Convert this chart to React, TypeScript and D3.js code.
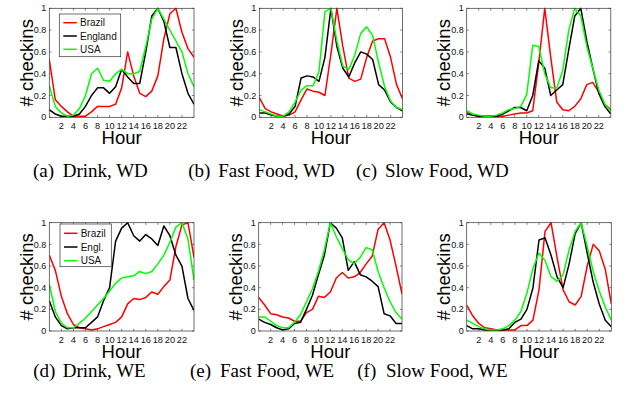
import React from "react";
import * as d3 from "d3";

const hours = [0, 1, 2, 3, 4, 5, 6, 7, 8, 9, 10, 11, 12, 13, 14, 15, 16, 17, 18, 19, 20, 21, 22, 23, 24];
const xTicks = [2, 4, 6, 8, 10, 12, 14, 16, 18, 20, 22];
const yTicks = [0, 0.2, 0.4, 0.6, 0.8, 1];
const yTickLabels = ["0", "0.2", "0.4", "0.6", "0.8", "1"];
const countries = ["Brazil", "England", "USA"];
const legendLabelsWD = ["Brazil", "England", "USA"];
const legendLabelsWE = ["Brazil", "Engl.", "USA"];

// (a) Drink, WD
const drinkWD_Brazil = [0.53, 0.16, 0.10, 0.05, 0.01, 0.01, 0.01, 0.05, 0.10, 0.10, 0.10, 0.12, 0.27, 0.60, 0.38, 0.22, 0.19, 0.24, 0.38, 0.72, 0.95, 1.0, 0.78, 0.63, 0.55];
const drinkWD_England = [0.07, 0.03, 0.01, 0.01, 0.01, 0.03, 0.10, 0.20, 0.27, 0.27, 0.22, 0.28, 0.44, 0.37, 0.31, 0.31, 0.60, 0.93, 1.0, 0.88, 0.64, 0.64, 0.40, 0.22, 0.12];
const drinkWD_USA = [0.29, 0.10, 0.04, 0.01, 0.02, 0.08, 0.20, 0.40, 0.45, 0.34, 0.33, 0.40, 0.44, 0.40, 0.40, 0.42, 0.65, 0.90, 1.0, 0.90, 0.80, 0.70, 0.60, 0.40, 0.28];

// (b) Fast Food, WD
const fastWD_Brazil = [0.18, 0.08, 0.05, 0.03, 0.01, 0.02, 0.05, 0.16, 0.26, 0.24, 0.23, 0.20, 0.58, 1.0, 0.65, 0.36, 0.33, 0.35, 0.55, 0.70, 0.72, 0.72, 0.55, 0.30, 0.17];
const fastWD_England = [0.04, 0.04, 0.02, 0.01, 0.01, 0.03, 0.10, 0.36, 0.38, 0.37, 0.33, 0.55, 1.0, 0.65, 0.45, 0.37, 0.50, 0.60, 0.58, 0.53, 0.30, 0.25, 0.14, 0.09, 0.06];
const fastWD_USA = [0.07, 0.05, 0.03, 0.01, 0.01, 0.05, 0.14, 0.25, 0.29, 0.29, 0.42, 0.97, 1.0, 0.70, 0.47, 0.44, 0.57, 0.77, 0.83, 0.75, 0.50, 0.28, 0.15, 0.09, 0.07];

// (c) Slow Food, WD
const slowWD_Brazil = [0.05, 0.02, 0.01, 0.01, 0.01, 0.01, 0.01, 0.02, 0.03, 0.04, 0.04, 0.06, 0.50, 1.0, 0.55, 0.14, 0.07, 0.06, 0.10, 0.17, 0.30, 0.32, 0.23, 0.12, 0.07];
const slowWD_England = [0.03, 0.02, 0.01, 0.01, 0.01, 0.01, 0.03, 0.06, 0.09, 0.09, 0.06, 0.20, 0.52, 0.45, 0.20, 0.25, 0.30, 0.62, 0.93, 1.0, 0.70, 0.45, 0.22, 0.10, 0.03];
const slowWD_USA = [0.06, 0.03, 0.02, 0.01, 0.01, 0.02, 0.04, 0.07, 0.08, 0.10, 0.21, 0.66, 0.65, 0.40, 0.27, 0.27, 0.43, 0.80, 1.0, 0.93, 0.65, 0.45, 0.25, 0.12, 0.06];

// (d) Drink, WE
const drinkWE_Brazil = [0.70, 0.56, 0.32, 0.16, 0.06, 0.03, 0.02, 0.01, 0.02, 0.04, 0.06, 0.08, 0.13, 0.25, 0.30, 0.29, 0.31, 0.36, 0.34, 0.41, 0.47, 0.78, 0.98, 1.0, 0.68];
const drinkWE_England = [0.28, 0.13, 0.05, 0.02, 0.03, 0.03, 0.03, 0.08, 0.13, 0.28, 0.40, 0.83, 0.95, 1.0, 0.88, 0.83, 0.89, 0.85, 0.79, 0.97, 0.88, 0.70, 0.60, 0.30, 0.19];
const drinkWE_USA = [0.43, 0.18, 0.07, 0.03, 0.03, 0.07, 0.12, 0.18, 0.24, 0.30, 0.37, 0.44, 0.49, 0.50, 0.51, 0.55, 0.53, 0.55, 0.62, 0.70, 0.82, 0.96, 1.0, 0.85, 0.47];

// (e) Fast Food, WE
const fastWE_Brazil = [0.31, 0.24, 0.16, 0.15, 0.13, 0.12, 0.09, 0.09, 0.17, 0.20, 0.32, 0.31, 0.36, 0.49, 0.54, 0.49, 0.50, 0.54, 0.62, 0.69, 0.94, 1.0, 0.84, 0.60, 0.34];
const fastWE_England = [0.11, 0.08, 0.06, 0.03, 0.01, 0.02, 0.07, 0.08, 0.20, 0.33, 0.52, 0.70, 1.0, 0.95, 0.86, 0.56, 0.64, 0.52, 0.50, 0.46, 0.41, 0.16, 0.14, 0.07, 0.07];
const fastWE_USA = [0.13, 0.13, 0.09, 0.05, 0.03, 0.03, 0.08, 0.15, 0.27, 0.39, 0.55, 0.75, 1.0, 0.87, 0.76, 0.66, 0.62, 0.68, 0.77, 0.75, 0.55, 0.40, 0.27, 0.17, 0.11];

// (f) Slow Food, WE
const slowWE_Brazil = [0.24, 0.14, 0.07, 0.03, 0.02, 0.01, 0.01, 0.01, 0.01, 0.05, 0.05, 0.10, 0.38, 0.92, 1.0, 0.68, 0.38, 0.27, 0.24, 0.32, 0.60, 0.80, 0.74, 0.57, 0.25];
const slowWE_England = [0.05, 0.02, 0.02, 0.01, 0.01, 0.01, 0.01, 0.02, 0.08, 0.11, 0.20, 0.40, 0.84, 0.86, 0.70, 0.50, 0.40, 0.62, 0.90, 1.0, 0.72, 0.45, 0.25, 0.10, 0.04];
const slowWE_USA = [0.10, 0.07, 0.04, 0.02, 0.01, 0.01, 0.02, 0.05, 0.10, 0.18, 0.35, 0.58, 0.72, 0.65, 0.50, 0.46, 0.52, 0.75, 0.92, 1.0, 0.78, 0.55, 0.37, 0.22, 0.10];

const captionLetters = ["(a)", "(b)", "(c)", "(d)", "(e)", "(f)"];
const captionTexts = ["Drink, WD", "Fast Food, WD", "Slow Food, WD", "Drink, WE", "Fast Food, WE", "Slow Food, WE"];

const colors = ["#ff0000", "#000000", "#00ff00"];

type Panel = {
  x0: number; x1: number; y0: number; y1: number;
  series: number[][];
  letter: string; text: string; capX: number; capTextX: number; capY: number;
  legend?: { labels: string[]; bx: number; by: number; bw: number; bh: number; rows: number[] };
};

const panels: Panel[] = [
  { x0: 49.3, x1: 194, y0: 8.3, y1: 117.3, series: [drinkWD_Brazil, drinkWD_England, drinkWD_USA], letter: captionLetters[0], text: captionTexts[0], capX: 33, capTextX: 62.7, capY: 177,
    legend: { labels: legendLabelsWD, bx: 59.3, by: 14, bw: 61.4, bh: 42.7, rows: [22.7, 36, 49.3] } },
  { x0: 259.3, x1: 402.5, y0: 8.3, y1: 117.3, series: [fastWD_Brazil, fastWD_England, fastWD_USA], letter: captionLetters[1], text: captionTexts[1], capX: 188.3, capTextX: 218.3, capY: 177 },
  { x0: 466.7, x1: 610.8, y0: 8.3, y1: 117.3, series: [slowWD_Brazil, slowWD_England, slowWD_USA], letter: captionLetters[2], text: captionTexts[2], capX: 356, capTextX: 385, capY: 177 },
  { x0: 49.3, x1: 194, y0: 222.7, y1: 331, series: [drinkWE_Brazil, drinkWE_England, drinkWE_USA], letter: captionLetters[3], text: captionTexts[3], capX: 33.3, capTextX: 62.7, capY: 377,
    legend: { labels: legendLabelsWE, bx: 60, by: 224, bw: 51.3, bh: 42.7, rows: [233.3, 247, 260.7] } },
  { x0: 258.7, x1: 402, y0: 222.7, y1: 331, series: [fastWE_Brazil, fastWE_England, fastWE_USA], letter: captionLetters[4], text: captionTexts[4], capX: 190, capTextX: 220, capY: 377 },
  { x0: 466.7, x1: 611.3, y0: 222.7, y1: 331, series: [slowWE_Brazil, slowWE_England, slowWE_USA], letter: captionLetters[5], text: captionTexts[5], capX: 357.3, capTextX: 386, capY: 377 },
];

const sans = "'Liberation Sans', Arial, Helvetica, sans-serif";
const serif = "'Liberation Serif', 'Times New Roman', serif";

function PanelView({ p, idx }: { p: Panel; idx: number }) {
  const x = d3.scaleLinear().domain([0, 24]).range([p.x0, p.x1]);
  const y = d3.scaleLinear().domain([0, 1]).range([p.y1, p.y0]);
  const line = d3.line<number>().x((_, i) => x(hours[i])).y((v) => y(v));
  const clipId = `clip${idx}`;
  const tl = 2.2;
  return (
    <g>
      <defs>
        <clipPath id={clipId}>
          <rect x={p.x0} y={p.y0 - 1} width={p.x1 - p.x0} height={p.y1 - p.y0 + 2} />
        </clipPath>
      </defs>
      <rect x={p.x0} y={p.y0} width={p.x1 - p.x0} height={p.y1 - p.y0} fill="#fff" />
      {xTicks.map((t) => (
        <g key={"xt" + t}>
          <line x1={x(t)} x2={x(t)} y1={p.y1} y2={p.y1 - tl} stroke="#333" strokeWidth={0.6} />
          <line x1={x(t)} x2={x(t)} y1={p.y0} y2={p.y0 + tl} stroke="#333" strokeWidth={0.6} />
          <text x={x(t)} y={p.y1 + 11.5} textAnchor="middle" fontFamily={sans} fontSize={9.2} fill="#111">{t}</text>
        </g>
      ))}
      {yTicks.map((t, i) => (
        <g key={"yt" + t}>
          <line x1={p.x0} x2={p.x0 + tl} y1={y(t)} y2={y(t)} stroke="#333" strokeWidth={0.6} />
          <line x1={p.x1} x2={p.x1 - tl} y1={y(t)} y2={y(t)} stroke="#333" strokeWidth={0.6} />
          <text x={p.x0 - 3} y={y(t)} dy="0.35em" textAnchor="end" fontFamily={sans} fontSize={9} fill="#111">{yTickLabels[i]}</text>
        </g>
      ))}
      <g clipPath={`url(#${clipId})`}>
        {p.series.map((s, i) => (
          <path key={countries[i]} d={line(s) || ""} fill="none" stroke={colors[i]} strokeWidth={1.5} strokeLinejoin="round" />
        ))}
      </g>
      <rect x={p.x0} y={p.y0} width={p.x1 - p.x0} height={p.y1 - p.y0} fill="none" stroke="#333" strokeWidth={0.7} />
      {p.legend && (
        <g>
          <rect x={p.legend.bx} y={p.legend.by} width={p.legend.bw} height={p.legend.bh} fill="#fff" stroke="#333" strokeWidth={0.7} />
          {p.legend.labels.map((l, i) => (
            <g key={l}>
              <line x1={p.legend!.bx + 4} x2={p.legend!.bx + 17.5} y1={p.legend!.rows[i]} y2={p.legend!.rows[i]} stroke={colors[i]} strokeWidth={1.5} />
              <text x={p.legend!.bx + 20.7} y={p.legend!.rows[i]} dy="0.35em" fontFamily={sans} fontSize={10} fill="#111">{l}</text>
            </g>
          ))}
        </g>
      )}
      <text x={(p.x0 + p.x1) / 2} y={p.y1 + 27} textAnchor="middle" fontFamily={sans} fontSize={18.5} fill="#000">Hour</text>
      <text transform={`translate(${p.x0 - 16.5},${(p.y0 + p.y1) / 2}) rotate(-90)`} textAnchor="middle" fontFamily={sans} fontSize={18.5} fill="#000">
        # checkins
      </text>
      <text x={p.capX} y={p.capY} fontFamily={serif} fontSize={19} fill="#000">{p.letter}</text>
      <text x={p.capTextX} y={p.capY} fontFamily={serif} fontSize={19} fill="#000">{p.text}</text>
    </g>
  );
}

export default function App() {
  return (
    <div style={{ position: "absolute", left: 0, top: 0 }}>
      <svg width={635} height={400} viewBox="0 0 635 400" style={{ display: "block", background: "#fff" }}>
        <rect x={0} y={0} width={635} height={400} fill="#fff" />
        {panels.map((p, i) => (
          <PanelView key={i} p={p} idx={i} />
        ))}
      </svg>
    </div>
  );
}
